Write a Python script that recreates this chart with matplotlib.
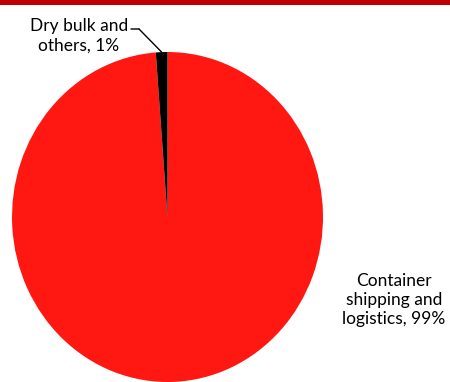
import numpy as np
import matplotlib.pyplot as plt
from matplotlib.patches import Rectangle

plt.rcParams['font.family'] = ['Lato', 'DejaVu Sans']

segments = ["Container\nshipping and\nlogistics, 99%", "Dry bulk and\nothers, 1%"]
shares = [98.8, 1.2]
colors = ["#FF1812", "#000000"]

fig = plt.figure(figsize=(4.5, 3.82), dpi=100)
fig.add_artist(Rectangle((0, 1 - 4.5 / 382), 1, 4.5 / 382, transform=fig.transFigure,
                         color="#C00000", lw=0))

# pie is stretched a bit vertically and runs off the bottom edge
ax = fig.add_axes([12 / 450, 0, 311 / 450, 1 - 52 / 382])
wedges, _ = ax.pie(shares, colors=colors, startangle=90, counterclock=False,
                   radius=1, wedgeprops=dict(linewidth=0))
ax.set_aspect('auto')
ax.set_xlim(-1, 1)
ax.set_ylim(-1, 1)
ax.axis('off')

# labels
fig.text(394 / 450, 1 - 300 / 382, segments[0], ha='center', va='center',
         fontsize=12.5, linespacing=1.25)
fig.text(79 / 450, 1 - 36 / 382, segments[1], ha='center', va='center',
         fontsize=12.5, linespacing=1.25)

# leader line to the small slice
w = wedges[1]
mid = np.deg2rad((w.theta1 + w.theta2) / 2)
tx, ty = np.cos(mid), np.sin(mid)
ax.annotate("", xy=(tx, ty), xycoords='data', xytext=(139, 382 - 29),
            textcoords='figure pixels',
            arrowprops=dict(arrowstyle='-', shrinkA=0, shrinkB=0, lw=1, color='black'))
ax.annotate("", xy=(139, 382 - 29), xycoords='figure pixels', xytext=(131, 382 - 29),
            textcoords='figure pixels',
            arrowprops=dict(arrowstyle='-', shrinkA=0, shrinkB=0, lw=1, color='black'))

fig.savefig("out.png", dpi=100)
